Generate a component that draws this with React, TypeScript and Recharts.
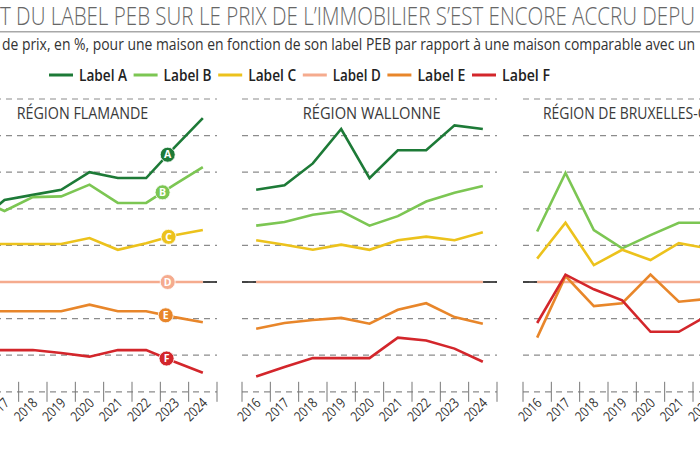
import React from 'react';
import { ComposedChart, Line, Scatter, XAxis, YAxis, CartesianGrid, ReferenceLine } from 'recharts';

const years = [2016, 2017, 2018, 2019, 2020, 2021, 2022, 2023, 2024];
const labelKeys = ['A', 'B', 'C', 'D', 'E', 'F'];
const labelNames = ['Label A', 'Label B', 'Label C', 'Label D', 'Label E', 'Label F'];
const labelColors = ['#1d7a37', '#7cc653', '#ecc21c', '#f5ab8e', '#e8862a', '#d3262b'];
const yTicks = [-15, -10, -5, 0, 5, 10, 15, 20, 25];
const regionNames = ['RÉGION FLAMANDE', 'RÉGION WALLONNE', 'RÉGION DE BRUXELLES-CAPITALE'];

// écart de prix en % vs label D
const flamA = [8.0, 11.2, 11.9, 12.6, 15.0, 14.2, 14.2, 18.4, 22.4];
const flamB = [11.4, 9.7, 11.6, 11.7, 13.3, 10.8, 10.8, 13.3, 15.7];
const flamC = [5.2, 5.2, 5.2, 5.2, 6.0, 4.4, 5.3, 6.4, 7.1];
const flamD = [0, 0, 0, 0, 0, 0, 0, 0, 0];
const flamE = [-4.0, -4.0, -4.0, -4.0, -3.1, -4.0, -4.0, -4.8, -5.5];
const flamF = [-9.3, -9.3, -9.3, -9.7, -10.2, -9.3, -9.3, -10.9, -12.4];

const wallA = [12.6, 13.2, 16.2, 20.9, 14.2, 18.0, 18.0, 21.4, 20.9];
const wallB = [7.7, 8.2, 9.2, 9.7, 7.7, 9.0, 11.0, 12.2, 13.1];
const wallC = [5.7, 5.1, 4.4, 5.1, 4.4, 5.7, 6.2, 5.7, 6.8];
const wallD = [0, 0, 0, 0, 0, 0, 0, 0, 0];
const wallE = [-6.4, -5.6, -5.2, -4.9, -5.7, -3.8, -2.9, -4.8, -5.7];
const wallF = [-12.9, -11.6, -10.4, -10.4, -10.4, -7.6, -8.0, -9.1, -10.9];

// 2023-2024 hors du cadre
const bruxA = [null, null, null, null, null, null, null, null, null];
const bruxB = [6.9, 14.9, 7.1, 4.6, 6.4, 8.1, 8.1, null, null];
const bruxC = [3.2, 8.1, 2.3, 4.4, 3.0, 5.3, 4.6, null, null];
const bruxD = [0, 0, 0, 0, 0, 0, 0, 0, 0];
const bruxE = [-7.6, 0.8, -3.3, -2.9, 1.0, -2.7, -2.3, null, null];
const bruxF = [-5.6, 1.0, -1.0, -2.5, -6.8, -6.8, -4.6, null, null];

// position des pastilles (Flandre)
const markerYears = [2022.76, 2022.58, 2022.79, 2022.76, 2022.69, 2022.72];

const buildRows = (cols: (number | null)[][]) =>
  years.map((year, i) => {
    const row: any = { year };
    labelKeys.forEach((k, j) => { row[k] = cols[j][i]; });
    return row;
  });

const flamRows = buildRows([flamA, flamB, flamC, flamD, flamE, flamF]);
const wallRows = buildRows([wallA, wallB, wallC, wallD, wallE, wallF]);
const bruxRows = buildRows([bruxA, bruxB, bruxC, bruxD, bruxE, bruxF]);

const flamMarkers = labelKeys.map((k, j) => {
  const t = markerYears[j];
  const i = Math.floor(t) - years[0];
  const f = t - Math.floor(t);
  const a = flamRows[i][k];
  const b = flamRows[i + 1][k];
  return { year: t, v: a + (b - a) * f, letter: k, color: labelColors[j] };
});

const FONT = "'Open Sans', sans-serif";
const PLOT_W = 255;
const PLOT_TOP = 99;
const PLOT_BOTTOM = 391.8;
const M_LEFT = 20;
const M_RIGHT = 12;
const AXIS_H = 40;
const PANEL_LEFT = [-38, 242, 522.8];

const YearTick = (props: any) => {
  const { x, y, payload } = props;
  const half = PLOT_W / years.length / 2;
  const last = payload.value === years[years.length - 1];
  const tx = x + 5.5;
  const ty = y + 12;
  return (
    <g>
      <line x1={x - half} x2={x - half} y1={y - 10} y2={y + 10} stroke="#777" strokeWidth={1} />
      {last && <line x1={x + half} x2={x + half} y1={y - 10} y2={y + 10} stroke="#777" strokeWidth={1} />}
      <text
        x={tx}
        y={ty}
        transform={`rotate(-45 ${tx} ${ty})`}
        textAnchor="end"
        fontSize={14}
        fontFamily={FONT}
        fill="#333"
        textLength={26}
        lengthAdjust="spacingAndGlyphs"
      >
        {payload.value}
      </text>
    </g>
  );
};

const Badge = (props: any) => {
  const { cx, cy, payload } = props;
  return (
    <g>
      <circle cx={cx} cy={cy} r={7.5} fill={payload.color} stroke="#fff" strokeWidth={0.8} />
      <text x={cx} y={cy + 3.8} textAnchor="middle" fontSize={10.5} fontWeight={700} fontFamily={FONT} fill="#fff">
        {payload.letter}
      </text>
    </g>
  );
};

function Panel({ rows, left, markers }: { rows: any[]; left: number; markers?: any[] }) {
  return (
    <div style={{ position: 'absolute', left: left - M_LEFT, top: 0 }}>
      <ComposedChart
        width={PLOT_W + M_LEFT + M_RIGHT}
        height={450}
        data={rows}
        margin={{ top: PLOT_TOP, right: M_RIGHT, bottom: 450 - PLOT_BOTTOM - AXIS_H, left: M_LEFT }}
      >
        <CartesianGrid vertical={false} stroke="#8c8c8c" strokeDasharray="6 5" strokeWidth={1.2} />
        <XAxis
          type="number"
          dataKey="year"
          domain={[years[0] - 0.5, years[years.length - 1] + 0.5]}
          ticks={years}
          interval={0}
          axisLine={false}
          tickLine={false}
          tickSize={0}
          tickMargin={0}
          height={AXIS_H}
          tick={<YearTick />}
          allowDataOverflow
        />
        <YAxis hide type="number" domain={[-15, 25]} ticks={yTicks} />
        <ReferenceLine segment={[{ x: years[0] - 0.5, y: 0 }, { x: years[0], y: 0 }]} stroke="#222" strokeWidth={1.6} />
        <ReferenceLine segment={[{ x: years[years.length - 1], y: 0 }, { x: years[years.length - 1] + 0.5, y: 0 }]} stroke="#222" strokeWidth={1.6} />
        {labelKeys.map((k, j) => (
          <Line
            key={k}
            type="linear"
            dataKey={k}
            stroke={labelColors[j]}
            strokeWidth={2.6}
            dot={false}
            isAnimationActive={false}
          />
        ))}
        {markers && <Scatter data={markers} dataKey="v" shape={<Badge />} isAnimationActive={false} />}
      </ComposedChart>
    </div>
  );
}

const legendX = (i: number) => 49 + i * 84.6;
const titleX = [16.7, 302.7, 543];
const titleLen = [131.6, 138, 216];

export default function App() {
  return (
    <div style={{ position: 'absolute', left: 0, top: 0, width: 700, height: 450, overflow: 'hidden', background: '#fff' }}>
      <Panel rows={flamRows} left={PANEL_LEFT[0]} markers={flamMarkers} />
      <Panel rows={wallRows} left={PANEL_LEFT[1]} />
      <Panel rows={bruxRows} left={PANEL_LEFT[2]} />
      <svg width={700} height={450} style={{ position: 'absolute', left: 0, top: 0, pointerEvents: 'none' }}>
        <text x={0} y={24.5} fontSize={25} fontWeight={300} fontFamily={FONT} fill="#666" textLength={695} lengthAdjust="spacingAndGlyphs">
          T DU LABEL PEB SUR LE PRIX DE L’IMMOBILIER S’EST ENCORE ACCRU DEPU
        </text>
        <line x1={0} x2={700} y1={31.7} y2={31.7} stroke="#a8a8a8" strokeWidth={1.5} />
        <text x={2} y={50} fontSize={16} fontFamily={FONT} fill="#333" textLength={693} lengthAdjust="spacingAndGlyphs">
          de prix, en %, pour une maison en fonction de son label PEB par rapport à une maison comparable avec un
        </text>
        {labelNames.map((name, i) => (
          <g key={name}>
            <line x1={legendX(i)} x2={legendX(i) + 24} y1={75} y2={75} stroke={labelColors[i]} strokeWidth={3} />
            <text x={legendX(i) + 30} y={81} fontSize={16.5} fontWeight={600} fontFamily={FONT} fill="#222" textLength={48} lengthAdjust="spacingAndGlyphs">
              {name}
            </text>
          </g>
        ))}
        {regionNames.map((r, i) => (
          <text key={r} x={titleX[i]} y={119.3} fontSize={16} fontFamily={FONT} fill="#3a3a3a" textLength={titleLen[i]} lengthAdjust="spacingAndGlyphs">
            {r}
          </text>
        ))}
      </svg>
    </div>
  );
}
